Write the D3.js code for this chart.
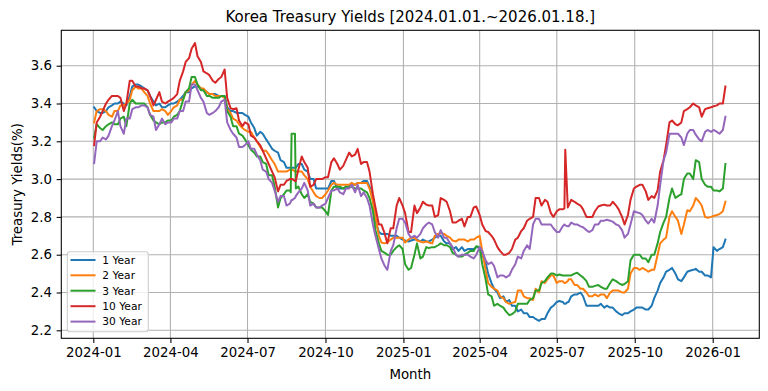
<!DOCTYPE html>
<html><head><meta charset="utf-8">
<script src="https://cdn.jsdelivr.net/npm/d3@7"></script>
<style>body{margin:0;background:#fff} svg{display:block;font-family:"DejaVu Sans",sans-serif}</style>
</head><body><svg id="c" width="768" height="391"></svg>
<script>
const dates = [
"2024-01-02","2024-01-05","2024-01-09","2024-01-12","2024-01-16","2024-01-19","2024-01-23","2024-01-26","2024-01-30","2024-02-02",
"2024-02-06","2024-02-09","2024-02-13","2024-02-16","2024-02-20","2024-02-23","2024-02-27","2024-03-01",
"2024-03-05","2024-03-08","2024-03-12","2024-03-15","2024-03-19","2024-03-22","2024-03-26","2024-03-29",
"2024-04-02","2024-04-05","2024-04-09","2024-04-12","2024-04-16","2024-04-19","2024-04-23","2024-04-26","2024-04-30","2024-05-03",
"2024-05-07","2024-05-10","2024-05-14","2024-05-17","2024-05-21","2024-05-24","2024-05-28","2024-05-31",
"2024-06-04","2024-06-07","2024-06-11","2024-06-14","2024-06-18","2024-06-21","2024-06-25","2024-06-28",
"2024-07-02","2024-07-05","2024-07-09","2024-07-12","2024-07-16","2024-07-19","2024-07-23","2024-07-26","2024-07-30","2024-08-02",
"2024-08-06","2024-08-09","2024-08-13","2024-08-16","2024-08-20","2024-08-21","2024-08-22","2024-08-23","2024-08-26","2024-08-27","2024-08-30",
"2024-09-03","2024-09-06","2024-09-10","2024-09-13","2024-09-17","2024-09-20","2024-09-24","2024-09-27",
"2024-10-01","2024-10-04","2024-10-08","2024-10-11","2024-10-15","2024-10-18","2024-10-22","2024-10-25","2024-10-29","2024-11-01",
"2024-11-05","2024-11-08","2024-11-12","2024-11-15","2024-11-19","2024-11-22","2024-11-26","2024-11-29",
"2024-12-03","2024-12-06","2024-12-10","2024-12-13","2024-12-17","2024-12-20","2024-12-24","2024-12-27","2024-12-31","2025-01-03",
"2025-01-07","2025-01-10","2025-01-14","2025-01-17","2025-01-21","2025-01-24","2025-01-28","2025-01-31",
"2025-02-04","2025-02-07","2025-02-11","2025-02-14","2025-02-18","2025-02-21","2025-02-25","2025-02-28",
"2025-03-04","2025-03-07","2025-03-11","2025-03-14","2025-03-18","2025-03-21","2025-03-25","2025-03-28",
"2025-04-01","2025-04-04","2025-04-08","2025-04-11","2025-04-15","2025-04-18","2025-04-22","2025-04-25","2025-04-29","2025-05-02",
"2025-05-06","2025-05-09","2025-05-13","2025-05-16","2025-05-20","2025-05-23","2025-05-27","2025-05-30",
"2025-06-03","2025-06-06","2025-06-10","2025-06-13","2025-06-17","2025-06-20","2025-06-24","2025-06-27",
"2025-07-01","2025-07-04","2025-07-08","2025-07-10","2025-07-11","2025-07-14","2025-07-15","2025-07-18","2025-07-22","2025-07-25","2025-07-29","2025-08-01",
"2025-08-05","2025-08-08","2025-08-12","2025-08-15","2025-08-19","2025-08-22","2025-08-26","2025-08-29",
"2025-09-02","2025-09-05","2025-09-09","2025-09-12","2025-09-16","2025-09-19","2025-09-23","2025-09-26","2025-09-30","2025-10-03",
"2025-10-07","2025-10-10","2025-10-14","2025-10-17","2025-10-21","2025-10-24","2025-10-28","2025-10-31",
"2025-11-04","2025-11-07","2025-11-11","2025-11-14","2025-11-18","2025-11-21","2025-11-25","2025-11-28",
"2025-12-02","2025-12-05","2025-12-09","2025-12-12","2025-12-16","2025-12-19","2025-12-23","2025-12-26","2025-12-30","2026-01-02",
"2026-01-06","2026-01-09","2026-01-13","2026-01-16"];

const y1 = [
3.38,3.36,3.35,3.35,3.36,3.38,3.39,3.40,3.40,3.41,
3.40,3.39,3.44,3.49,3.50,3.50,3.49,3.48,
3.47,3.44,3.41,3.39,3.40,3.38,3.38,3.39,
3.40,3.40,3.41,3.42,3.44,3.46,3.46,3.48,3.49,3.49,
3.48,3.47,3.46,3.45,3.45,3.45,3.44,3.44,
3.44,3.38,3.36,3.36,3.35,3.35,3.35,3.34,
3.33,3.30,3.27,3.23,3.25,3.24,3.21,3.19,3.16,3.15,
3.14,3.10,3.09,3.06,3.06,3.06,3.06,3.06,3.06,3.06,3.08,
3.08,3.05,3.04,3.00,3.00,2.95,2.95,2.95,
2.95,2.95,2.99,2.99,2.95,2.95,2.95,2.95,2.96,2.97,
2.97,2.98,2.98,2.99,2.99,2.96,2.90,2.78,
2.72,2.71,2.71,2.71,2.70,2.70,2.70,2.69,2.68,2.675,
2.67,2.675,2.68,2.68,2.67,2.68,2.67,2.67,
2.68,2.69,2.70,2.70,2.67,2.66,2.66,2.63,
2.64,2.62,2.64,2.62,2.63,2.63,2.63,2.64,
2.64,2.60,2.56,2.50,2.45,2.42,2.40,2.37,2.38,2.35,
2.36,2.33,2.33,2.30,2.31,2.29,2.29,2.27,
2.27,2.26,2.25,2.26,2.26,2.29,2.32,2.33,
2.35,2.355,2.35,2.34,2.34,2.35,2.35,2.38,2.39,2.39,2.40,2.38,
2.33,2.33,2.33,2.33,2.33,2.34,2.32,2.33,
2.32,2.32,2.30,2.29,2.28,2.29,2.29,2.30,2.31,2.32,
2.32,2.32,2.31,2.31,2.33,2.37,2.41,2.45,
2.48,2.51,2.52,2.53,2.50,2.47,2.46,2.48,
2.51,2.515,2.52,2.525,2.51,2.51,2.49,2.49,2.48,2.64,
2.62,2.63,2.64,2.68];

const y2 = [
3.30,3.36,3.37,3.37,3.36,3.34,3.33,3.36,3.36,3.39,
3.39,3.40,3.42,3.47,3.49,3.48,3.48,3.46,
3.44,3.40,3.36,3.36,3.36,3.37,3.36,3.34,
3.36,3.38,3.39,3.42,3.42,3.46,3.47,3.50,3.52,3.50,
3.48,3.48,3.46,3.45,3.45,3.44,3.44,3.44,
3.43,3.37,3.35,3.32,3.31,3.29,3.27,3.26,
3.25,3.25,3.22,3.20,3.17,3.15,3.15,3.13,3.10,3.08,
3.04,3.04,3.04,3.04,3.05,3.05,3.05,3.05,3.04,3.04,3.04,
3.04,3.02,3.00,2.96,2.93,2.91,2.90,2.90,
2.92,2.94,2.97,2.98,2.97,2.97,2.97,2.97,2.97,2.98,
2.97,2.98,2.98,2.98,2.98,2.95,2.88,2.80,
2.70,2.665,2.66,2.665,2.68,2.69,2.69,2.69,2.69,2.665,
2.68,2.69,2.69,2.675,2.67,2.665,2.67,2.665,
2.66,2.70,2.71,2.715,2.71,2.70,2.69,2.675,
2.67,2.68,2.68,2.68,2.67,2.68,2.68,2.69,
2.70,2.62,2.52,2.45,2.43,2.42,2.41,2.38,2.37,2.35,
2.34,2.345,2.35,2.41,2.41,2.38,2.37,2.37,
2.36,2.42,2.40,2.46,2.45,2.47,2.49,2.49,
2.45,2.46,2.46,2.45,2.45,2.46,2.47,2.47,2.44,2.44,2.42,2.42,
2.40,2.38,2.38,2.39,2.38,2.39,2.39,2.37,
2.40,2.41,2.41,2.41,2.40,2.40,2.42,2.50,2.53,2.53,
2.52,2.53,2.52,2.51,2.52,2.52,2.60,2.66,
2.68,2.69,2.80,2.83,2.80,2.78,2.71,2.76,
2.835,2.83,2.86,2.90,2.88,2.86,2.80,2.795,2.80,2.805,
2.81,2.815,2.83,2.88];

const y3 = [
3.22,3.29,3.27,3.26,3.28,3.29,3.30,3.29,3.29,3.32,
3.33,3.28,3.40,3.42,3.40,3.40,3.40,3.40,
3.38,3.34,3.31,3.30,3.29,3.30,3.30,3.31,
3.31,3.33,3.34,3.36,3.42,3.46,3.48,3.54,3.54,3.50,
3.47,3.47,3.44,3.44,3.43,3.43,3.43,3.44,
3.44,3.36,3.33,3.28,3.28,3.24,3.23,3.21,
3.18,3.155,3.14,3.12,3.12,3.09,3.08,3.02,3.02,2.96,
2.85,2.90,2.92,2.94,2.94,2.93,3.24,3.24,3.24,2.95,2.96,
2.92,2.90,2.92,2.88,2.87,2.85,2.85,2.85,
2.83,2.81,2.94,2.96,2.96,2.96,2.95,2.96,2.96,2.96,
2.95,2.95,2.95,2.94,2.93,2.90,2.83,2.73,
2.66,2.62,2.61,2.60,2.60,2.62,2.64,2.65,2.63,2.55,
2.52,2.53,2.60,2.66,2.58,2.59,2.64,2.635,
2.64,2.64,2.65,2.66,2.65,2.65,2.64,2.61,
2.60,2.59,2.59,2.60,2.61,2.62,2.62,2.645,
2.64,2.55,2.47,2.39,2.38,2.33,2.34,2.33,2.32,2.30,
2.28,2.285,2.30,2.34,2.34,2.34,2.34,2.36,
2.37,2.41,2.41,2.45,2.46,2.48,2.50,2.50,
2.49,2.495,2.49,2.49,2.49,2.49,2.49,2.49,2.50,2.505,2.49,2.48,
2.46,2.43,2.43,2.435,2.44,2.43,2.42,2.42,
2.45,2.47,2.46,2.45,2.44,2.445,2.46,2.57,2.60,2.60,
2.60,2.58,2.58,2.56,2.60,2.60,2.66,2.72,
2.77,2.80,2.90,2.95,2.90,2.91,2.92,3.00,
3.03,3.03,3.00,3.10,3.09,3.00,2.97,2.96,2.96,2.94,
2.94,2.935,2.95,3.08];

const y10 = [
3.18,3.30,3.33,3.36,3.40,3.42,3.44,3.44,3.44,3.43,
3.36,3.40,3.52,3.52,3.49,3.49,3.48,3.48,
3.47,3.44,3.39,3.42,3.46,3.41,3.40,3.41,
3.42,3.43,3.45,3.52,3.57,3.62,3.64,3.69,3.72,3.65,
3.62,3.57,3.56,3.55,3.52,3.51,3.53,3.54,
3.58,3.43,3.375,3.37,3.375,3.31,3.28,3.30,
3.29,3.23,3.22,3.20,3.18,3.15,3.11,3.08,3.04,3.01,
2.935,2.97,2.97,2.99,3.00,3.00,3.00,3.00,2.99,2.99,3.05,
3.12,3.09,3.06,2.96,2.97,3.00,3.00,3.00,
3.01,3.01,3.09,3.11,3.08,3.05,3.07,3.10,3.14,3.12,
3.13,3.16,3.08,3.09,3.09,3.04,2.92,2.85,
2.76,2.76,2.71,2.66,2.74,2.74,2.86,2.90,2.86,2.82,
2.72,2.72,2.86,2.82,2.85,2.88,2.865,2.86,
2.86,2.80,2.81,2.90,2.89,2.88,2.83,2.77,
2.77,2.78,2.79,2.75,2.80,2.80,2.85,2.855,
2.81,2.76,2.725,2.72,2.70,2.68,2.64,2.62,2.60,2.60,
2.61,2.63,2.68,2.69,2.725,2.74,2.78,2.79,
2.80,2.90,2.90,2.86,2.89,2.88,2.82,2.80,
2.83,2.84,2.84,2.845,3.155,2.85,2.86,2.89,2.88,2.87,2.86,2.84,
2.80,2.80,2.80,2.83,2.855,2.86,2.865,2.86,
2.86,2.88,2.86,2.84,2.80,2.76,2.81,2.89,2.95,2.96,
2.97,2.97,2.935,2.89,2.91,2.90,2.94,3.04,
3.10,3.18,3.30,3.31,3.29,3.285,3.30,3.36,
3.37,3.38,3.40,3.39,3.38,3.33,3.37,3.375,3.38,3.385,
3.39,3.40,3.40,3.49];

const y30 = [
3.085,3.20,3.20,3.22,3.21,3.23,3.28,3.31,3.36,3.28,
3.24,3.32,3.32,3.37,3.38,3.38,3.39,3.39,
3.38,3.34,3.33,3.26,3.29,3.32,3.29,3.30,
3.30,3.32,3.32,3.36,3.36,3.41,3.41,3.50,3.50,3.47,
3.43,3.41,3.35,3.34,3.35,3.36,3.38,3.41,
3.42,3.30,3.26,3.24,3.22,3.17,3.17,3.18,
3.20,3.16,3.16,3.13,3.10,3.05,3.04,3.00,2.98,2.94,
2.88,2.91,2.91,2.86,2.87,2.88,2.89,2.89,2.90,2.91,2.93,
2.95,2.98,2.94,2.86,2.87,2.85,2.85,2.86,
2.87,2.90,2.94,2.94,2.95,2.93,2.92,2.95,2.95,2.97,
2.93,2.97,2.91,2.93,2.90,2.86,2.76,2.70,
2.63,2.58,2.54,2.52,2.62,2.65,2.74,2.79,2.79,2.77,
2.71,2.69,2.70,2.69,2.71,2.74,2.76,2.77,
2.76,2.72,2.69,2.73,2.69,2.69,2.66,2.64,
2.60,2.59,2.60,2.60,2.60,2.59,2.58,2.60,
2.64,2.62,2.57,2.55,2.56,2.54,2.48,2.49,2.49,2.48,
2.49,2.52,2.55,2.59,2.58,2.62,2.65,2.63,
2.76,2.79,2.79,2.76,2.76,2.76,2.76,2.74,
2.72,2.72,2.75,2.76,2.755,2.75,2.75,2.77,2.76,2.76,2.75,2.745,
2.73,2.72,2.73,2.76,2.76,2.78,2.78,2.785,
2.78,2.775,2.76,2.755,2.73,2.69,2.71,2.76,2.83,2.825,
2.82,2.81,2.78,2.765,2.79,2.77,2.86,2.97,
3.10,3.14,3.24,3.24,3.24,3.24,3.22,3.18,
3.24,3.26,3.26,3.235,3.21,3.20,3.25,3.26,3.25,3.26,
3.25,3.24,3.26,3.33];

const seriesNames = ["1 Year","2 Year","3 Year","10 Year","30 Year"];
const seriesColors = ["#1f77b4","#ff7f0e","#2ca02c","#d62728","#9467bd"];
const xTickLabels = ["2024-01","2024-04","2024-07","2024-10","2025-01","2025-04","2025-07","2025-10","2026-01"];
const yTickValues = [2.2,2.4,2.6,2.8,3.0,3.2,3.4,3.6];

const allSeries = [y1,y2,y3,y10,y30];
allSeries.forEach((s,i)=>{ if (s.length !== dates.length) throw new Error(seriesNames[i]+" length "+s.length+" vs "+dates.length); });

const svg = d3.select("#c");
const L = 61.3, R = 759.3, T = 30.3, B = 338.3;
const FS = 13.33;
const parse = d3.utcParse("%Y-%m-%d");
const parseM = d3.utcParse("%Y-%m");
const x = d3.scaleUtc().domain([parse("2024-01-01"), parse("2026-01-01")]).range([93.3, 712.7]);
const y = d3.scaleLinear().domain([2.2, 3.6]).range([330.3, 65.7]);
const xt = xTickLabels.map(parseM);

svg.append("rect").attr("width",768).attr("height",391).attr("fill","#fff");
svg.append("defs").append("clipPath").attr("id","clip").append("rect")
  .attr("x",L).attr("y",T).attr("width",R-L).attr("height",B-T);

// grid
const g = svg.append("g");
g.selectAll(".gx").data(xt).join("line").attr("x1",d=>x(d)).attr("x2",d=>x(d)).attr("y1",T).attr("y2",B)
  .attr("stroke","#b0b0b0").attr("stroke-width",1.07);
g.selectAll(".gy").data(yTickValues).join("line").attr("y1",d=>y(d)).attr("y2",d=>y(d)).attr("x1",L).attr("x2",R)
  .attr("stroke","#b0b0b0").attr("stroke-width",1.07);

// lines
const dd = dates.map(parse);
const line = d3.line().x((d,i)=>x(dd[i])).y(d=>y(d));
const lg = svg.append("g").attr("clip-path","url(#clip)");
allSeries.forEach((s,i)=>{
  lg.append("path").datum(s).attr("d",line).attr("fill","none")
    .attr("stroke",seriesColors[i]).attr("stroke-width",2).attr("stroke-linejoin","round").attr("stroke-linecap","square");
});

// axes
const ax = svg.append("g").attr("transform",`translate(0,${B})`)
  .call(d3.axisBottom(x).tickValues(xt).tickFormat(d3.utcFormat("%Y-%m")).tickSize(4.67).tickPadding(4.67));
const ay = svg.append("g").attr("transform",`translate(${L},0)`)
  .call(d3.axisLeft(y).tickValues(yTickValues).tickFormat(d3.format(".1f")).tickSize(4.67).tickPadding(4.67));
[ax,ay].forEach(a=>{
  a.select(".domain").remove();
  a.selectAll("line").attr("stroke","#000").attr("stroke-width",1.07);
  a.selectAll("text").attr("font-size",FS+"px").attr("font-family","DejaVu Sans").attr("fill","#000");
});
svg.append("rect").attr("x",L).attr("y",T).attr("width",R-L).attr("height",B-T)
  .attr("fill","none").attr("stroke","#000").attr("stroke-width",1.07);

// title & labels
svg.append("text").attr("x",(L+R)/2).attr("y",22.3).attr("text-anchor","middle")
  .attr("font-size","15px").text("Korea Treasury Yields [2024.01.01.~2026.01.18.]");
svg.append("text").attr("x",(L+R)/2).attr("y",379).attr("text-anchor","middle")
  .attr("font-size",FS+"px").text("Month");
svg.append("text").attr("transform",`translate(21.5,${(T+B)/2}) rotate(-90)`).attr("text-anchor","middle")
  .attr("font-size",FS+"px").text("Treasury Yields(%)");

// legend
const leg = svg.append("g");
leg.append("rect").attr("x",67.3).attr("y",251.7).attr("width",81).attr("height",80).attr("rx",2.7)
  .attr("fill","#fff").attr("fill-opacity",0.8).attr("stroke","#cccccc").attr("stroke-width",1.07);
const rows = [260,275.3,290.7,306.2,321.6];
seriesNames.forEach((n,i)=>{
  leg.append("line").attr("x1",70.5).attr("x2",95.5).attr("y1",rows[i]).attr("y2",rows[i])
    .attr("stroke",seriesColors[i]).attr("stroke-width",2);
  leg.append("text").attr("x",102.3).attr("y",rows[i]).attr("dy","0.36em").attr("font-size","10.67px").text(n);
});
</script></body></html>
